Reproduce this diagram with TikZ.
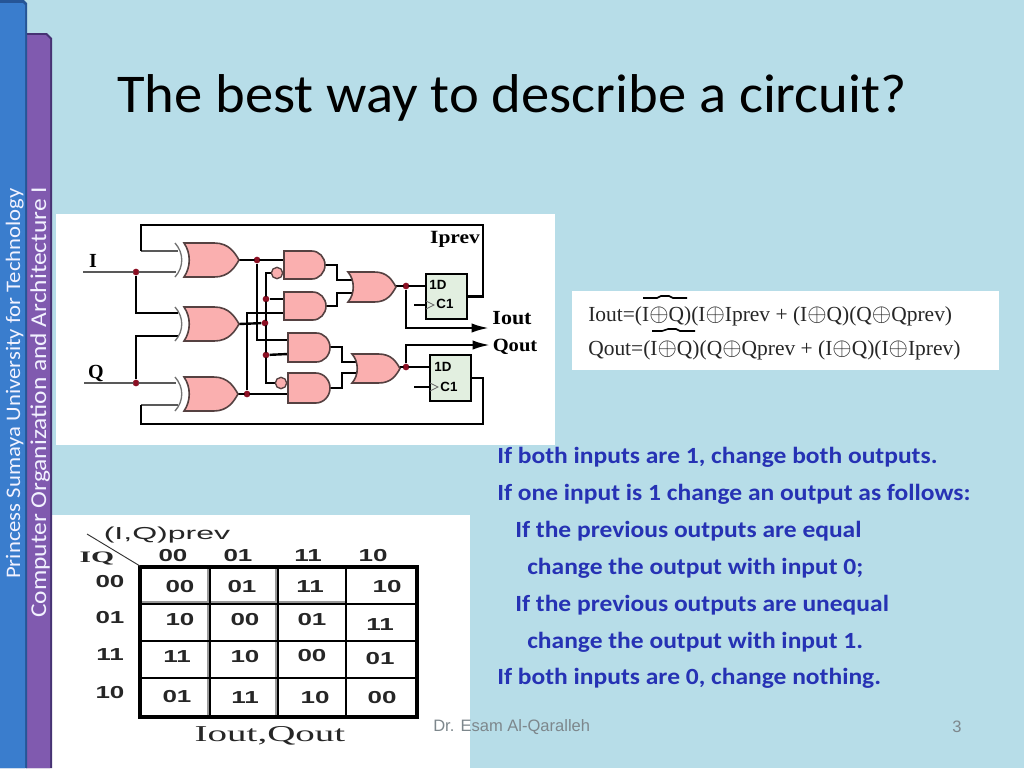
\documentclass[tikz,border=0pt]{standalone}
\usepackage{fontspec}
\usepackage{graphicx}
\setmainfont{Carlito}
\newfontfamily\lsans{Liberation Sans}
\newfontfamily\lserif{Liberation Serif}
\definecolor{bgblue}{RGB}{183,221,232}
\definecolor{barblue}{RGB}{58,125,205}
\definecolor{barblueD}{RGB}{38,85,150}
\definecolor{barpurple}{RGB}{128,90,175}
\definecolor{barpurpleD}{RGB}{70,50,115}
\definecolor{gatefill}{RGB}{250,175,175}
\definecolor{gateline}{RGB}{85,65,65}
\definecolor{ffgreen}{RGB}{226,239,224}
\definecolor{dotred}{RGB}{140,15,35}
\definecolor{bodyblue}{RGB}{38,50,180}
\definecolor{footgray}{RGB}{125,135,140}
\usetikzlibrary{arrows.meta}
\newcommand\ox{\mathbin{\scalebox{1.08}{$\oplus$}}}
\tikzset{
 gate/.style={draw=gateline,fill=gatefill,line width=1.2pt},
 wire/.style={draw=black,line width=1.8pt,line join=miter},
 thinwire/.style={draw=black!65,line width=0.8pt},
 ffbox/.style={draw=black,fill=ffgreen,line width=1.8pt,minimum width=0pt,inner sep=0pt},
 jdot/.style={circle,fill=dotred,inner sep=0pt,minimum size=5pt},
 bubble/.style={circle,draw=gateline,fill=gatefill,line width=1pt,inner sep=0pt,minimum size=8.5pt},
 bodytxt/.style={anchor=base west,inner sep=0pt,text=bodyblue,font=\fontsize{17.4pt}{18pt}\selectfont\bfseries},
 celltxt/.style={inner sep=0pt,font=\fontsize{13pt}{14pt}\lsans\bfseries,text=black!85},
 eqtxt/.style={anchor=base west,inner sep=0pt,text=black!85,font=\fontsize{16.1pt}{19pt}\lserif},
 sidetxt/.style={rotate=90,anchor=base west,inner sep=0pt,text=white!95!blue},
 pinarrow/.style={-{Latex[length=13pt,width=7pt]},wire},
}
% AND gate: left, top, bottom, tip
\newcommand\andg[4]{%
 \pgfmathsetmacro\mm{#4-0.95*(#3-#2)/2}%
 \pgfmathsetmacro\cc{(#2+#3)/2}%
 \pgfmathsetmacro\ka{\mm+0.55*(#4-\mm)}%
 \pgfmathsetmacro\kt{\cc-0.55*(#3-#2)/2}%
 \pgfmathsetmacro\kb{\cc+0.55*(#3-#2)/2}%
 \path[gate] (#1,#2) -- (\mm,#2) .. controls (\ka,#2) and (#4,\kt) .. (#4,\cc)
   .. controls (#4,\kb) and (\ka,#3) .. (\mm,#3) -- (#1,#3) -- cycle;}
% OR gate: left, top, bottom, tip, back bulge
\newcommand\org[5]{%
 \pgfmathsetmacro\mm{#1+0.55*(#4-#1)}%
 \pgfmathsetmacro\cc{(#2+#3)/2}%
 \pgfmathsetmacro\bk{#1+#5}%
 \pgfmathsetmacro\ka{\mm+0.6*(#4-\mm)}%
 \path[gate] (#1,#2) -- (\mm,#2) .. controls (\ka,#2) and (#4-4,\cc-7) .. (#4,\cc)
   .. controls (#4-4,\cc+7) and (\ka,#3) .. (\mm,#3) -- (#1,#3)
   .. controls (\bk,\cc+7) and (\bk,\cc-7) .. cycle;}
% extra XOR arc: left, top, bottom, bulge
\newcommand\xorarc[4]{%
 \pgfmathsetmacro\cc{(#2+#3)/2}%
 \pgfmathsetmacro\bk{#1+#4}%
 \draw[draw=black!55,line width=1pt] (#1,#2) .. controls (\bk,\cc-7) and (\bk,\cc+7) .. (#1,#3);}
\begin{document}
\begin{tikzpicture}[x=0.75pt,y=-0.75pt]
\useasboundingbox (0,0) rectangle (1024,768);
\fill[bgblue] (0,0) rectangle (1024,768);
% white panels
\fill[white] (56,214) rectangle (555,445);
\fill[white] (572,291) rectangle (999,370);
\fill[white] (52,515) rectangle (470,768);
% side bars
\fill[barpurpleD] (26,768) -- (26,33) -- (47,33) -- (52,38) -- (52,768) -- cycle;
\fill[barpurple] (26,768) -- (26,35) -- (46,35) -- (50,39) -- (50,768) -- cycle;
\fill[barblueD] (0,768) -- (0,0) -- (24,0) -- (27,3) -- (27,768) -- cycle;
\fill[barblue] (0,768) -- (0,3) -- (23,3) -- (25,5) -- (25,768) -- cycle;
\node[sidetxt,font=\fontsize{15.5pt}{16pt}\selectfont] (side1) at (20,579) {\scalebox{1.098}[1]{Princess Sumaya University for Technology}};
\node[sidetxt,font=\fontsize{17pt}{17pt}\selectfont] (side2) at (46,618) {\scalebox{1.122}[1]{Computer Organization and Architecture I}};
% title
\node[anchor=base west,inner sep=0pt,font=\fontsize{41pt}{44pt}\selectfont] (title) at (117,112) {\scalebox{1.035}[1]{The best way to describe a circuit?}};
% ---------- circuit ----------
\coordinate (xa1) at (178,251); \coordinate (xa2) at (176,272);
\coordinate (xb1) at (178,313); \coordinate (xb2) at (178,336);
\coordinate (xc1) at (176,383); \coordinate (xc2) at (178,405);
\coordinate (oxa) at (239,260); \coordinate (oxb) at (239,324); \coordinate (oxc) at (238,394);
\coordinate (ia) at (284,260); \coordinate (ib) at (284,313); \coordinate (ic) at (288,340);
\coordinate (id) at (288,394);
\coordinate (ian) at (284,299); \coordinate (icn) at (288,354);
\coordinate (oa) at (325,265); \coordinate (ob) at (326,306); \coordinate (oc) at (330,347); \coordinate (od) at (330,388);
\coordinate (ora) at (352,280); \coordinate (orb) at (352,293); \coordinate (orc) at (356,362); \coordinate (ord) at (356,373);
\coordinate (oor1) at (396,286); \coordinate (oor2) at (400,367);
\coordinate (inL) at (83,272); \coordinate (qnL) at (84,383);
\coordinate (fba) at (141,251); \coordinate (fbb) at (141,405);
\coordinate (ioutend) at (489,328); \coordinate (qoutend) at (490,345);
\coordinate (clk1) at (414,305); \coordinate (clk2) at (414,387);
% junctions
\node[jdot] (ji) at (136,272) {};
\node[jdot] (jq) at (136,383) {};
\node[jdot] (j1) at (257,260) {};
\node[jdot] (j2) at (266,299) {};
\node[jdot] (j3) at (265,323) {};
\node[jdot] (j4) at (266,355) {};
\node[jdot] (j5) at (247,394) {};
\node[jdot] (j6) at (406,286) {};
\node[jdot] (j7) at (406,367) {};
\coordinate (vbar) at (266,273);
% flip-flops
\node[ffbox,minimum width=30.75pt,minimum height=33.75pt] (ff1) at (446.5,296.5) {};
\node[ffbox,minimum width=30.75pt,minimum height=34.5pt] (ff2) at (450.5,378) {};
% wires
\draw[thinwire] (fba) -- (xa1);
\draw[thinwire] (inL) -- (xa2);
\draw[thinwire] (qnL) -- (xc1);
\draw[thinwire] (fbb) -- (xc2);
\draw[wire] (ji) |- (xb1);
\draw[wire] (jq) |- (xb2);
\draw[wire] (fba) -- (141,225) -- (483,225) |- (ff1.east);
\draw[wire] (fbb) -- (141,424) -- (483,424) |- (ff2.east);
\draw[wire] (oxa) -- (ia);
\draw[wire] (j1) |- (ic);
\draw[wire] (oxb) -- (j3);
\draw[wire] (oxc) -- (id);
\draw[wire] (j5) |- (ib);
\draw[wire] (j2) -- (ian);
\draw[wire] (j4) -- (icn);
\draw[wire] (277,273) -- (vbar) -- (266,383) -- (281,383);
\draw[wire] (oa) -- (337,265) -- (337,280) -- (ora);
\draw[wire] (ob) -- (337,306) -- (337,293) -- (orb);
\draw[wire] (oc) -- (342,347) -- (342,362) -- (orc);
\draw[wire] (od) -- (342,388) -- (342,373) -- (ord);
\draw[wire] (oor1) -- (ff1.west |- oor1);
\draw[wire] (oor2) -- (ff2.west |- oor2);
\draw[wire] (clk1) -- (ff1.west |- clk1);
\draw[wire] (clk2) -- (ff2.west |- clk2);
\draw[pinarrow] (j6) |- (ioutend);
\draw[pinarrow] (j7) |- (qoutend);
% gates
\xorarc{175}{243}{277}{9}\org{184}{243}{277}{239}{7}
\xorarc{175}{307}{341}{9}\org{184}{307}{341}{239}{7}
\xorarc{175}{377}{411}{9}\org{184}{377}{411}{238}{7}
\andg{284}{251}{279}{325}
\andg{284}{292}{320}{326}
\andg{288}{333}{362}{330}
\andg{288}{373}{403}{330}
\org{348}{272}{302}{396}{7}
\org{352}{354}{383}{400}{7}
\node[bubble] (ba) at (277,273) {};
\node[bubble] (bb) at (281,383) {};
% clock triangles
\draw[draw=black!60,line width=0.6pt] (426,301) -- (434,305) -- (426,309);
\draw[draw=black!60,line width=0.6pt] (430,383) -- (438,387) -- (430,391);
% dots over wires
\foreach \n in {ji,jq,j1,j2,j3,j4,j5,j6,j7} \fill[dotred] (\n) circle (2.6);
% labels
\node[inner sep=0pt,font=\fontsize{15pt}{16pt}\lserif\bfseries] (lI) at (93,261) {I};
\node[inner sep=0pt,font=\fontsize{15pt}{16pt}\lserif\bfseries] (lQ) at (96,373) {Q};
\node[inner sep=0pt,font=\fontsize{14pt}{14pt}\lserif\bfseries] (lprev) at (455,239) {\scalebox{1.15}[1]{Iprev}};
\node[inner sep=0pt,font=\fontsize{15pt}{14pt}\lserif\bfseries] (liout) at (512,318) {\scalebox{1.1}[1]{Iout}};
\node[inner sep=0pt,font=\fontsize{14pt}{14pt}\lserif\bfseries] (lqout) at (515,347) {\scalebox{1.1}[1]{Qout}};
\node[inner sep=0pt,font=\fontsize{10pt}{11pt}\lsans\bfseries] (d1) at (438,285) {1D};
\node[inner sep=0pt,font=\fontsize{10pt}{11pt}\lsans\bfseries] (c1) at (445,304) {C1};
\node[inner sep=0pt,font=\fontsize{10pt}{11pt}\lsans\bfseries] (d2) at (443,367) {1D};
\node[inner sep=0pt,font=\fontsize{10pt}{11pt}\lsans\bfseries] (c2) at (449,387) {C1};
% ---------- equations ----------
\node[eqtxt] (eq1) at (588,321) {Iout=(I$\ox$Q)(I$\ox$Iprev + (I$\ox$Q)(Q$\ox$Qprev)};
\node[eqtxt] (eq2) at (588,355) {Qout=(I$\ox$Q)(Q$\ox$Qprev + (I$\ox$Q)(I$\ox$Iprev)};
\draw[black,line width=1.2pt] (643,298) -- (657,298) -- (661,296) -- (669,296) -- (673,298) -- (687,298);
\draw[black,line width=1.2pt] (652,331) -- (662,331) -- (668,329) -- (676,329) -- (680,331) -- (695,331);
% ---------- table ----------
\draw[draw=black!40,line width=2pt] (208,567) -- (208,717) (276,567) -- (276,717);
\draw[draw=black!40,line width=1.5pt] (140,602) -- (346,602);
\draw[black,line width=1pt] (210,567) -- (210,717) (278,567) -- (278,717) (346,567) -- (346,717)
  (140,604) -- (417,604) (140,641) -- (417,641) (140,678) -- (417,678);
\draw[black,line width=2.4pt] (140,567) rectangle (417,717);
\draw[black!80,line width=0.7pt] (87,534) -- (140,566);
\foreach \x/\y/\t [count=\i] in {
 173/556/00,238/556/01,308/556/11,373/556/10,
 110/582/00,110/618/01,110/655/11,110/693/10,
 180/587/00,242/587/01,310/587/11,387/587/10,
 180/620/10,245/620/00,312/620/01,380/625/11,
 177/657/11,245/657/10,312/656/00,380/659/01,
 177/697/01,245/698/11,315/698/10,382/698/00}
 \node[celltxt] (cell\i) at (\x,\y) {\scalebox{1.5}[1]{\t}};
\node[inner sep=0pt,font=\fontsize{13pt}{14pt}\lsans,text=black!85] (tprev) at (167,535) {\scalebox{1.85}[1]{(I,Q)prev}};
\node[inner sep=0pt,font=\fontsize{12pt}{13pt}\lserif\bfseries,text=black!85] (tiq) at (97,558) {\scalebox{1.85}[1]{IQ}};
\node[inner sep=0pt,font=\fontsize{17pt}{18pt}\lserif,text=black!85] (tout) at (270,736) {\scalebox{1.72}[1]{Iout,Qout}};
% ---------- body text ----------
\foreach \x/\y/\t [count=\i] in {
 497/463/{If both inputs are 1, change both outputs.},
 497/500/{If one input is 1 change an output as follows:},
 515/537/{If the previous outputs are equal},
 527/574/{change the output with input 0;},
 515/611/{If the previous outputs are unequal},
 527/648/{change the output with input 1.},
 497/684/{If both inputs are 0, change nothing.}}
 \node[bodytxt] (body\i) at (\x,\y) {\scalebox{1.1}[1]{\t}};
% footer
\node[anchor=west,inner sep=0pt,text=footgray,font=\fontsize{12.4pt}{13pt}\lsans] (foot) at (433,727) {Dr. Esam Al-Qaralleh};
\node[inner sep=0pt,text=footgray,font=\fontsize{12.4pt}{13pt}\lsans] (pg) at (957,727) {3};
\end{tikzpicture}
\end{document}
